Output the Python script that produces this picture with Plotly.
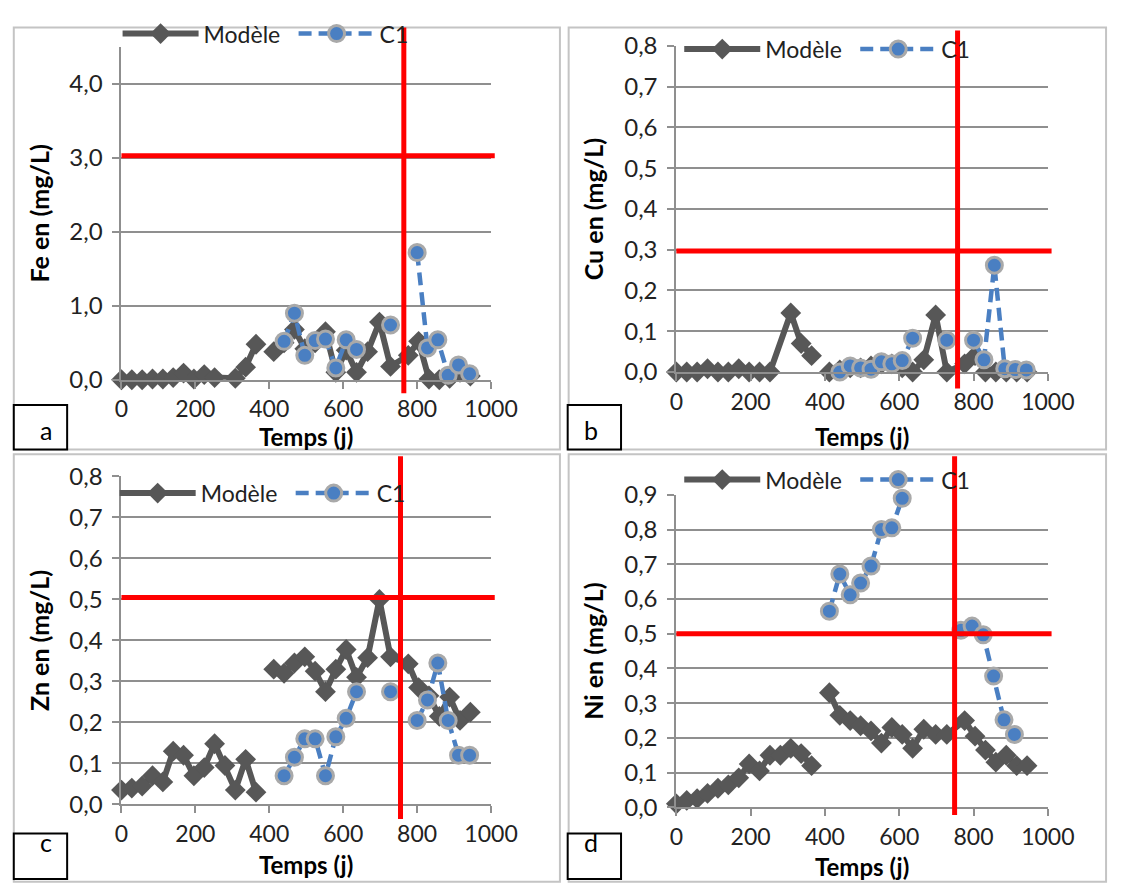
import plotly.graph_objects as go

W, H = 1135, 890
FONT = "Lato"

# ---------------- data (days, mg/L) ----------------
# Panel a - Fe
fe_model_days = [0, 28, 56, 84, 112, 140, 168, 196, 224, 252, 308, 336, 364, None,
                 412, 440, 468, 496, 524, 552, 580, 608, 636, 666, 698, 728,
                 776, 804, 832, 860, 888, 916, 944]
fe_model = [0.0, 0.0, 0.0, 0.01, 0.01, 0.03, 0.09, 0.01, 0.07, 0.03, 0.02, 0.17, 0.48, None,
            0.38, 0.5, 0.68, 0.42, 0.5, 0.65, 0.1, 0.4, 0.1, 0.38, 0.78, 0.18,
            0.33, 0.52, 0.01, 0.0, 0.02, 0.1, 0.05]
fe_c1_days = [440, 468, 496, 524, 552, 580, 608, 636, None, 728, None, 800, 828, 856, 884, 912, 942]
fe_c1 = [0.52, 0.9, 0.33, 0.53, 0.55, 0.16, 0.54, 0.41, None, 0.74, None, 1.72, 0.43, 0.54, 0.06, 0.2, 0.08]

# Panel b - Cu
cu_model_days = [0, 28, 56, 84, 112, 140, 168, 196, 224, 252, 308, 336, 364, None,
                 412, 440, 468, 496, 524, 552, 580, 608, 636, 666, 698, 728,
                 776, 804, 832, 860, 888, 916, 944]
cu_model = [0.0, 0.0, 0.0, 0.008, 0.0, 0.0, 0.008, 0.0, 0.0, 0.0, 0.145, 0.07, 0.04, None,
            0.0, 0.005, 0.01, 0.01, 0.015, 0.02, 0.02, 0.01, 0.0, 0.03, 0.14, 0.0,
            0.02, 0.04, 0.0, 0.0, 0.0, 0.0, 0.0]
cu_c1_days = [440, 468, 496, 524, 552, 580, 608, 636, None, 728, None, 800, 828, 856, 884, 912, 942]
cu_c1 = [0.0, 0.015, 0.01, 0.007, 0.025, 0.02, 0.028, 0.083, None, 0.078, None, 0.078, 0.03, 0.262, 0.008, 0.006, 0.005]

# Panel c - Zn
zn_model_days = [0, 28, 56, 84, 112, 140, 168, 196, 224, 252, 280, 308, 336, 364, None,
                 412, 440, 468, 496, 524, 552, 580, 608, 636, 666, 698, 728,
                 776, 804, 832, 860, 888, 916, 944]
zn_model = [0.035, 0.04, 0.045, 0.07, 0.055, 0.13, 0.12, 0.07, 0.09, 0.148, 0.095, 0.035, 0.11, 0.03, None,
            0.33, 0.32, 0.345, 0.36, 0.325, 0.275, 0.33, 0.378, 0.31, 0.358, 0.5, 0.36,
            0.343, 0.285, 0.265, 0.215, 0.262, 0.205, 0.225]
zn_c1_days = [440, 468, 496, 524, 552, 580, 608, 636, None, 728, None, 800, 828, 856, 884, 912, 942]
zn_c1 = [0.07, 0.115, 0.16, 0.16, 0.07, 0.165, 0.21, 0.275, None, 0.275, None, 0.205, 0.255, 0.345, 0.205, 0.12, 0.12]

# Panel d - Ni
ni_model_days = [0, 28, 56, 84, 112, 140, 168, 196, 224, 252, 280, 308, 336, 364, None,
                 412, 440, 468, 496, 524, 552, 580, 608, 636, 666, 698, 728,
                 776, 804, 832, 860, 888, 916, 944]
ni_model = [0.01, 0.02, 0.025, 0.04, 0.055, 0.065, 0.085, 0.125, 0.105, 0.15, 0.15, 0.17, 0.155, 0.12, None,
            0.33, 0.265, 0.25, 0.235, 0.22, 0.185, 0.23, 0.21, 0.17, 0.225, 0.21, 0.21,
            0.25, 0.205, 0.165, 0.13, 0.15, 0.12, 0.12]
ni_c1_days = [412, 440, 468, 496, 524, 552, 580, 608, None, 766, 796, 826, 854, 882, 910]
ni_c1 = [0.565, 0.672, 0.612, 0.646, 0.695, 0.8, 0.805, 0.89, None, 0.51, 0.522, 0.497, 0.378, 0.252, 0.21]

# threshold lines (horizontal limit value, vertical day)
limit_values = [3.03, 0.297, 0.505, 0.5]
limit_days = [764, 757, 755, 749]

y_titles = ["Fe en (mg/L)", "Cu en (mg/L)", "Zn en (mg/L)", "Ni en (mg/L)"]
x_title = "Temps (j)"
y_max = [4.5, 0.8, 0.8, 0.9]
y_step = [1.0, 0.1, 0.1, 0.1]
panel_letters = ["a", "b", "c", "d"]
x_ticks = [0, 200, 400, 600, 800, 1000]
series_names = ["Modèle", "C1"]

# ---------------- geometry (pixels) ----------------
plot_px = [(118, 499, 32, 376), (690, 1073, 31, 368), (118, 499, 476, 815), (690, 1073, 495, 818)]
legend_px = [(114, -4), (693, 12), (111, 471), (693, 457)]      # left, top
xtitle_px = [(308, 435), (881, 435), (308, 877), (881, 879)]
frame_px = [(7, 570, 12, 448), (579, 1133, 12, 448), (7, 570, 453, 895), (579, 1133, 453, 895)]
vline_px = [(12, 390), (15, 385), (455, 830), (455, 826)]
label_box_px = [(7, 62, 402, 448), (578, 633, 402, 448), (7, 62, 845, 892), (578, 633, 845, 892)]

px2x = lambda p: p / W
px2y = lambda p: 1 - p / H

MODEL_COLOR = "#575757"
C1_COLOR = "#4a7fc2"
GRID = "#8f8f8f"
TXT = "#222222"

model_days = [fe_model_days, cu_model_days, zn_model_days, ni_model_days]
model_vals = [fe_model, cu_model, zn_model, ni_model]
c1_days = [fe_c1_days, cu_c1_days, zn_c1_days, ni_c1_days]
c1_vals = [fe_c1, cu_c1, zn_c1, ni_c1]

fig = go.Figure()
layout = dict(
    width=W, height=H, margin=dict(l=0, r=0, t=0, b=0),
    paper_bgcolor="white", plot_bgcolor="white",
    separators=", ", font=dict(family=FONT, size=24, color=TXT),
    shapes=[], annotations=[],
)

for i in range(4):
    n = "" if i == 0 else str(i + 1)
    xa, ya = "x" + n, "y" + n
    lg = "legend" + n
    l, r, t, b = plot_px[i]

    fig.add_trace(go.Scatter(
        x=model_days[i], y=model_vals[i], name=series_names[0], mode="lines+markers",
        line=dict(color=MODEL_COLOR, width=6),
        marker=dict(symbol="diamond", size=16, color=MODEL_COLOR),
        xaxis=xa, yaxis=ya, legend=lg, cliponaxis=False, connectgaps=False,
    ))
    fig.add_trace(go.Scatter(
        x=c1_days[i], y=c1_vals[i], name=series_names[1], mode="lines+markers",
        line=dict(color=C1_COLOR, width=4.5, dash="13px,7px"),
        marker=dict(symbol="circle", size=16, color=C1_COLOR, line=dict(color="#a9a9a9", width=3)),
        xaxis=xa, yaxis=ya, legend=lg, cliponaxis=False, connectgaps=False,
    ))

    layout["xaxis" + n] = dict(
        domain=[px2x(l), px2x(r)], anchor=ya, range=[0, 1000], tickvals=x_ticks,
        showgrid=False, zeroline=False, showline=True, linecolor=GRID, linewidth=2,
        ticks="outside", ticklen=7, tickwidth=2, tickcolor=GRID,
        tickfont=dict(family=FONT, size=23, color=TXT), ticklabelstandoff=1,
    )
    yt = [round(k * y_step[i], 2) for k in range(int(round(y_max[i] / y_step[i])) + 1)]
    layout["yaxis" + n] = dict(
        domain=[px2y(b), px2y(t)], anchor=xa, range=[0, y_max[i]], tickvals=yt, tickformat=".1f",
        showgrid=True, gridcolor=GRID, gridwidth=1.5, zeroline=False,
        showline=True, linecolor=GRID, linewidth=2,
        ticks="outside", ticklen=7, tickwidth=2, tickcolor=GRID,
        tickfont=dict(family=FONT, size=24, color=TXT), ticklabelstandoff=5,
        title=dict(text="<b>" + y_titles[i] + "</b>", font=dict(family=FONT, size=25, color="black"), standoff=13),
    )
    lx, ly = legend_px[i]
    layout[lg] = dict(
        orientation="h", x=px2x(lx), y=px2y(ly), xanchor="left", yanchor="top",
        bgcolor="rgba(0,0,0,0)", font=dict(family=FONT, size=23, color=TXT),
        itemwidth=76, entrywidth=85, entrywidthmode="pixels", traceorder="normal",
    )
    tx, ty = xtitle_px[i]
    layout["annotations"].append(dict(xref="paper", yref="paper", x=px2x(tx), y=px2y(ty),
                                      text="<b>" + x_title + "</b>", showarrow=False,
                                      xanchor="center", yanchor="middle",
                                      font=dict(family=FONT, size=24, color="black")))

    # panel frame
    fl, fr, ft, fb = frame_px[i]
    layout["shapes"].append(dict(type="rect", xref="paper", yref="paper",
                                 x0=px2x(fl), x1=px2x(fr), y0=px2y(fb), y1=px2y(ft),
                                 line=dict(color="#c4c4c4", width=2), layer="below"))
    # horizontal threshold
    layout["shapes"].append(dict(type="line", xref=xa + " domain", yref=ya,
                                 x0=0, x1=1.01, y0=limit_values[i], y1=limit_values[i],
                                 line=dict(color="#ff0000", width=5)))
    # vertical threshold
    vt, vb = vline_px[i]
    layout["shapes"].append(dict(type="line", xref=xa, yref="paper",
                                 x0=limit_days[i], x1=limit_days[i], y0=px2y(vb), y1=px2y(vt),
                                 line=dict(color="#ff0000", width=5)))
    # panel letter box
    bl, br, bt, bb = label_box_px[i]
    layout["shapes"].append(dict(type="rect", xref="paper", yref="paper",
                                 x0=px2x(bl), x1=px2x(br), y0=px2y(bb), y1=px2y(bt),
                                 line=dict(color="black", width=2), fillcolor="white"))
    layout["annotations"].append(dict(xref="paper", yref="paper", x=px2x((bl + br) / 2 - 3),
                                      y=px2y((bt + bb) / 2 + 3), text=panel_letters[i], showarrow=False,
                                      font=dict(family=FONT, size=25, color="black")))

fig.update_layout(**layout)
fig.write_html("out.html", config={"displayModeBar": False},
               post_script="document.body.style.margin='0';document.body.style.overflow='hidden';")
